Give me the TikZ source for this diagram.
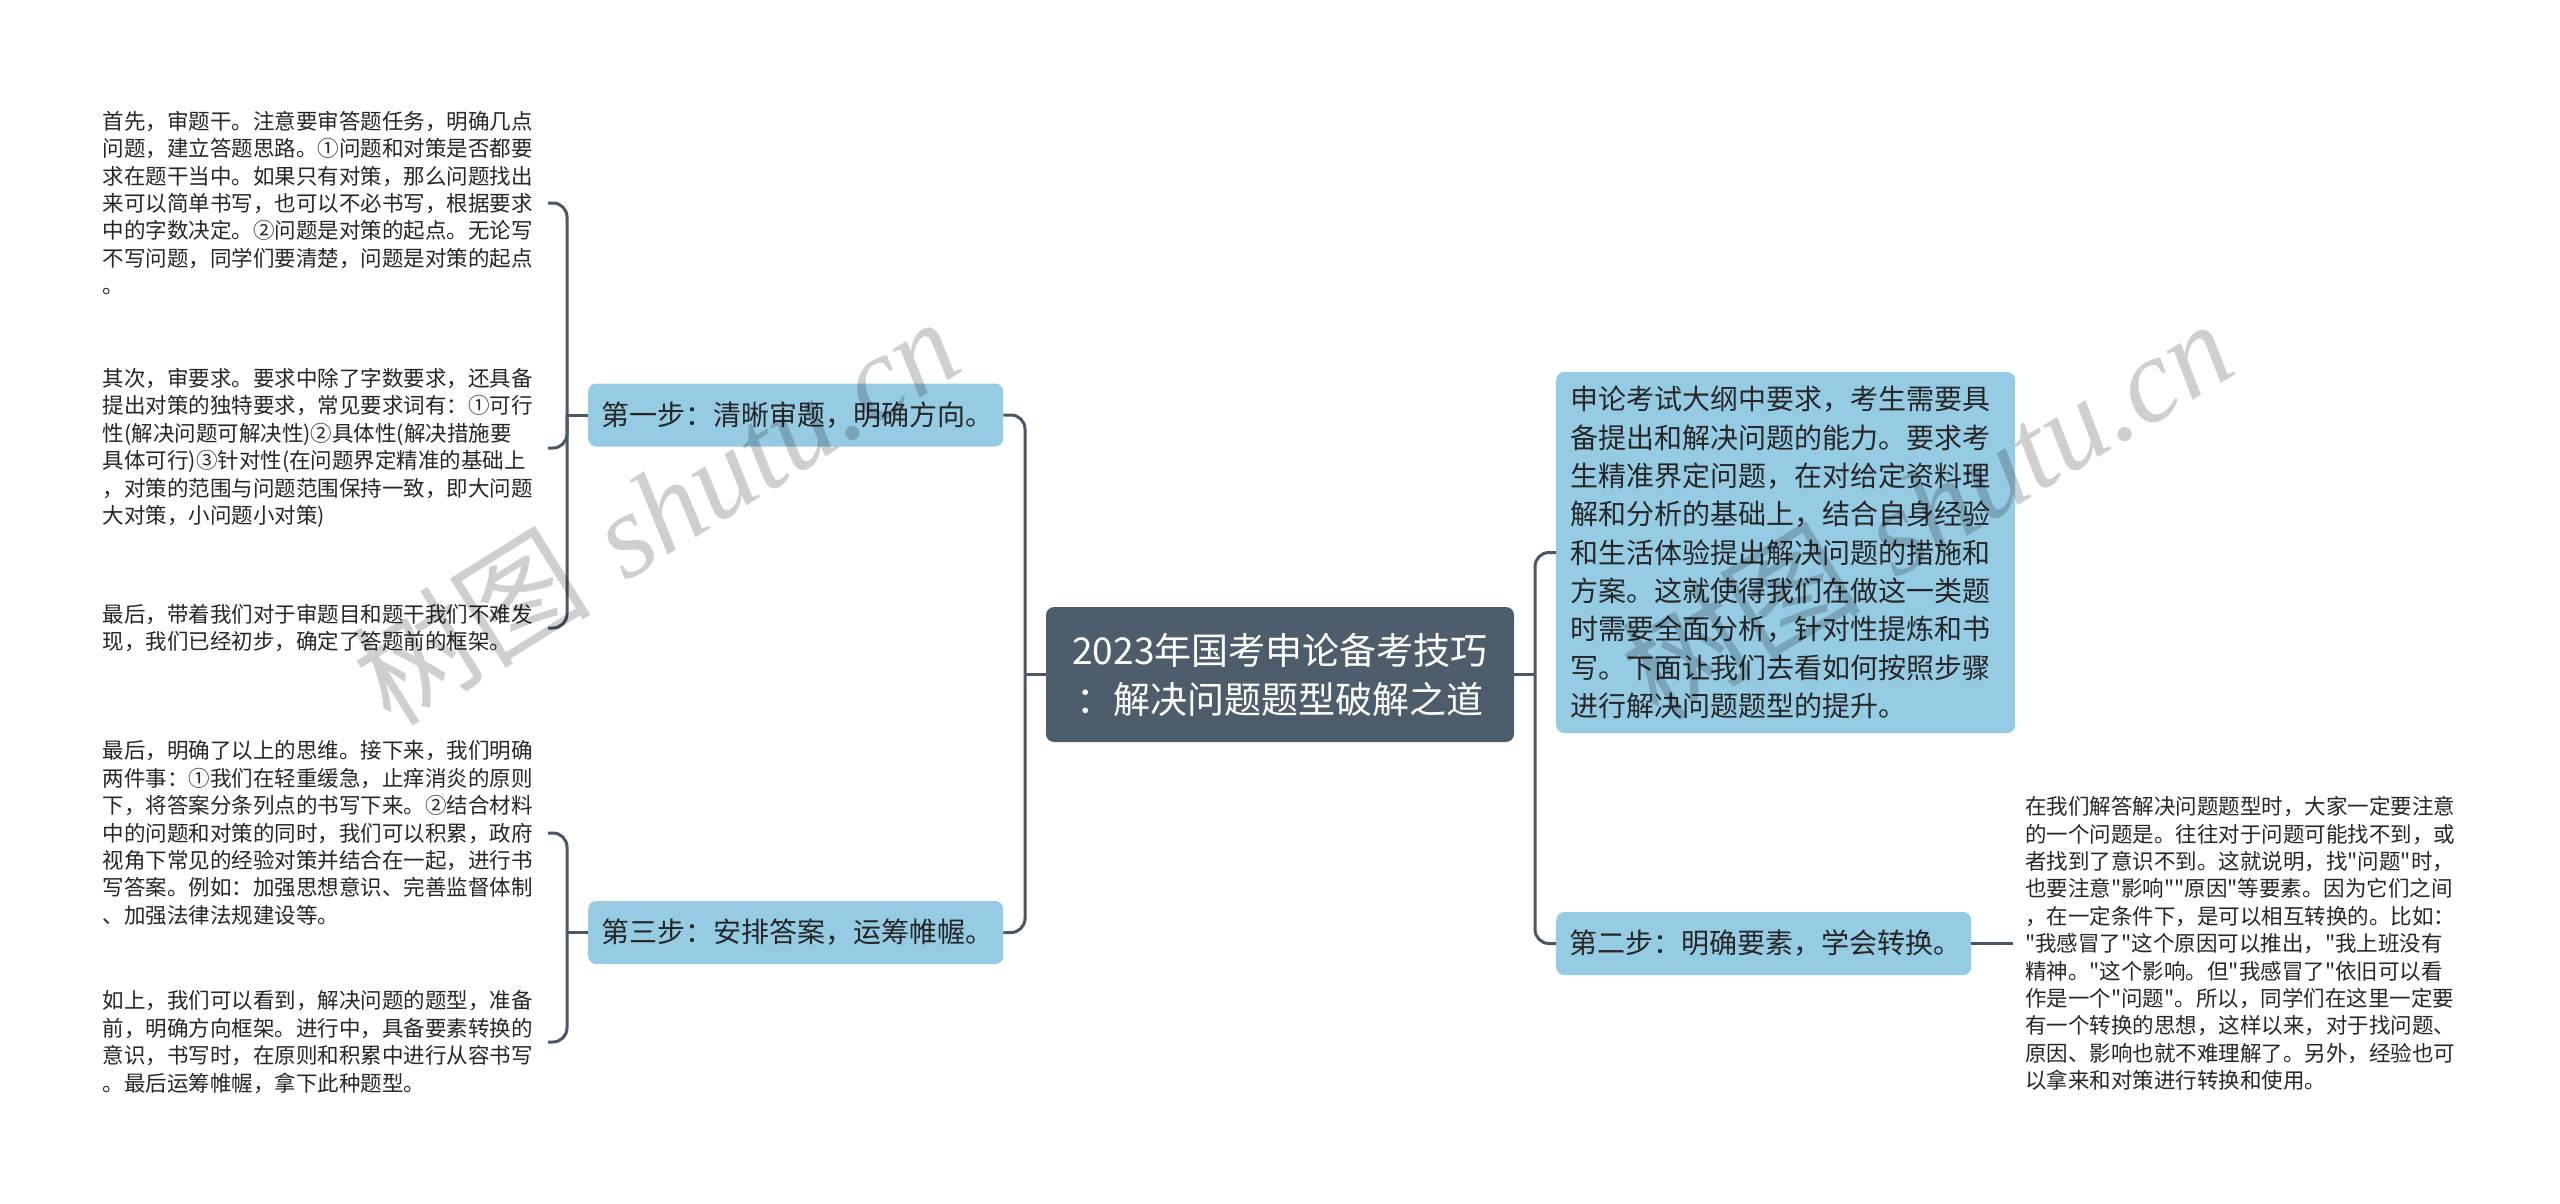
\documentclass[tikz,border=0pt]{standalone}
\usepackage{fontspec}
\newfontfamily\cjk{Noto Sans CJK SC}
\newfontfamily\wmlatin{Liberation Serif}
\definecolor{stepblue}{HTML}{96CBE4}
\definecolor{rootslate}{HTML}{4E5D6C}
\definecolor{linec}{HTML}{4A5764}
\definecolor{inkc}{HTML}{262626}
\begin{document}
\begin{tikzpicture}[x=1pt,y=-1pt,
  conn/.style={draw=linec, line width=3pt, rounded corners=14pt},
  rootbox/.style={fill=rootslate, rounded corners=8pt, text=white,
    font=\cjk\fontsize{37}{49}\selectfont, text width=440pt, align=center,
    inner xsep=14pt, minimum height=135pt},
  stepbox/.style={fill=stepblue, rounded corners=8pt, text=inkc,
    font=\cjk\fontsize{28}{33}\selectfont, text width=389pt, align=left,
    inner xsep=13pt, minimum height=63pt, anchor=west},
  infobox/.style={fill=stepblue, rounded corners=8pt, text=inkc,
    font=\cjk\fontsize{28}{38.3}\selectfont, text width=431pt, align=left,
    inner xsep=14pt, minimum height=361pt, anchor=west},
  leaf/.style={text=inkc, font=\cjk\fontsize{21.5}{27.4}\selectfont,
    text width=445pt, align=left, inner sep=0pt},
  wm/.style={text=black, text opacity=0.19, font=\fontsize{120}{120}\selectfont, inner sep=0pt}
]
\fill[white] (0,0) rectangle (2560,1203);
\useasboundingbox (0,0) rectangle (2560,1203);

% main nodes
\node[rootbox] (root) at (1280,674.5) {2023年国考申论备考技巧\\：解决问题题型破解之道};
\node[stepbox] (s1) at (588,415) {第一步：清晰审题，明确方向。};
\node[stepbox] (s3) at (588,932.5) {第三步：安排答案，运筹帷幄。};
\node[infobox] (rbox) at (1556,552.5) {申论考试大纲中要求，考生需要具\\备提出和解决问题的能力。要求考\\生精准界定问题，在对给定资料理\\解和分析的基础上，结合自身经验\\和生活体验提出解决问题的措施和\\方案。这就使得我们在做这一类题\\时需要全面分析，针对性提炼和书\\写。下面让我们去看如何按照步骤\\进行解决问题题型的提升。};
\node[stepbox] (s2) at (1556,943.5) {第二步：明确要素，学会转换。};

% leaf texts
\node[leaf, anchor=east] (t1) at (548,203) {首先，审题干。注意要审答题任务，明确几点\\问题，建立答题思路。①问题和对策是否都要\\求在题干当中。如果只有对策，那么问题找出\\来可以简单书写，也可以不必书写，根据要求\\中的字数决定。②问题是对策的起点。无论写\\不写问题，同学们要清楚，问题是对策的起点\\。};
\node[leaf, anchor=east] (t2) at (548,448) {其次，审要求。要求中除了字数要求，还具备\\提出对策的独特要求，常见要求词有：①可行\\性(解决问题可解决性)②具体性(解决措施要\\具体可行)③针对性(在问题界定精准的基础上\\，对策的范围与问题范围保持一致，即大问题\\大对策，小问题小对策)};
\node[leaf, anchor=east] (t3) at (548,628) {最后，带着我们对于审题目和题干我们不难发\\现，我们已经初步，确定了答题前的框架。};
\node[leaf, anchor=east] (t4) at (548,833) {最后，明确了以上的思维。接下来，我们明确\\两件事：①我们在轻重缓急，止痒消炎的原则\\下，将答案分条列点的书写下来。②结合材料\\中的问题和对策的同时，我们可以积累，政府\\视角下常见的经验对策并结合在一起，进行书\\写答案。例如：加强思想意识、完善监督体制\\、加强法律法规建设等。};
\node[leaf, anchor=east] (t5) at (548,1042) {如上，我们可以看到，解决问题的题型，准备\\前，明确方向框架。进行中，具备要素转换的\\意识，书写时，在原则和积累中进行从容书写\\。最后运筹帷幄，拿下此种题型。};
\node[leaf, anchor=west, inner xsep=12pt] (t6) at (2013,943.5) {在我们解答解决问题题型时，大家一定要注意\\的一个问题是。往往对于问题可能找不到，或\\者找到了意识不到。这就说明，找"问题"时，\\也要注意"影响""原因"等要素。因为它们之间\\，在一定条件下，是可以相互转换的。比如：\\"我感冒了"这个原因可以推出，"我上班没有\\精神。"这个影响。但"我感冒了"依旧可以看\\作是一个"问题"。所以，同学们在这里一定要\\有一个转换的思想，这样以来，对于找问题、\\原因、影响也就不难理解了。另外，经验也可\\以拿来和对策进行转换和使用。};

% junctions
\coordinate (lj) at (1025,674.5);
\coordinate (rj) at (1535,674.5);
\coordinate (k1) at (567,415);
\coordinate (k3) at (567,932.5);

% connectors
\draw[conn] (root.west) -- (lj);
\draw[conn] (lj) |- (s1.east);
\draw[conn] (lj) |- (s3.east);
\draw[conn] (root.east) -- (rj);
\draw[conn] (rj) |- (rbox.west);
\draw[conn] (rj) |- (s2.west);
\draw[conn] (s1.west) -- (k1);
\draw[conn] (k1) |- (t1.east);
\draw[conn] (k1) |- (t2.east);
\draw[conn] (k1) |- (t3.east);
\draw[conn] (s3.west) -- (k3);
\draw[conn] (k3) |- (t4.east);
\draw[conn] (k3) |- (t5.east);
\draw[conn] (s2.east) -- (t6.west);

% watermarks
\node[wm, rotate=32] (wm1) at (655,510) {{\cjk 树图} {\wmlatin\itshape shutu.cn}};
\node[wm, rotate=31] (wm2) at (1926,508) {{\cjk 树图} {\wmlatin\itshape shutu.cn}};
\end{tikzpicture}
\end{document}
